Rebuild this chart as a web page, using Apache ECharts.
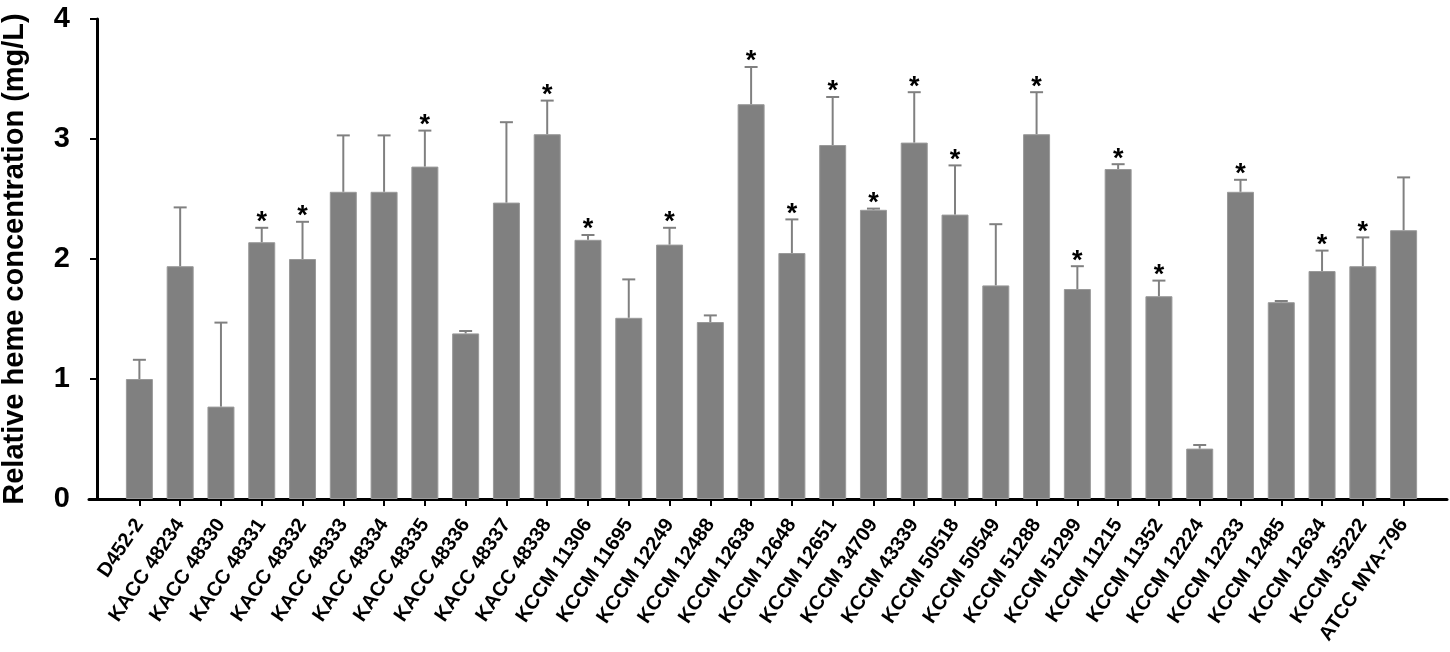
<!DOCTYPE html>
<html>
<head>
<meta charset="utf-8">
<script src="https://cdn.jsdelivr.net/npm/echarts@6/dist/echarts.min.js"></script>
<style>
  html, body { margin: 0; padding: 0; background: #fff; }
  #main { width: 1450px; height: 652px; }
</style>
</head>
<body>
<div id="main"></div>
<script>
const strains = [
  'D452-2', 'KACC 48234', 'KACC 48330', 'KACC 48331', 'KACC 48332', 'KACC 48333',
  'KACC 48334', 'KACC 48335', 'KACC 48336', 'KACC 48337', 'KACC 48338',
  'KCCM 11306', 'KCCM 11695', 'KCCM 12249', 'KCCM 12488', 'KCCM 12638',
  'KCCM 12648', 'KCCM 12651', 'KCCM 34709', 'KCCM 43339', 'KCCM 50518',
  'KCCM 50549', 'KCCM 51288', 'KCCM 51299', 'KCCM 11215', 'KCCM 11352',
  'KCCM 12224', 'KCCM 12233', 'KCCM 12485', 'KCCM 12634', 'KCCM 35222',
  'ATCC MYA-796'
];
const heme = [
  1.00, 1.94, 0.77, 2.14, 2.00, 2.56, 2.56, 2.77, 1.38, 2.47, 3.04,
  2.16, 1.51, 2.12, 1.475, 3.29, 2.05, 2.95, 2.41, 2.97, 2.37,
  1.78, 3.04, 1.75, 2.75, 1.69, 0.42, 2.56, 1.64, 1.90, 1.94, 2.24
];
// top of the error bar (mean + SD)
const errTop = [
  1.16, 2.43, 1.47, 2.26, 2.31, 3.03, 3.03, 3.07, 1.40, 3.14, 3.32,
  2.20, 1.83, 2.26, 1.53, 3.60, 2.33, 3.35, 2.42, 3.39, 2.78,
  2.29, 3.39, 1.94, 2.79, 1.82, 0.45, 2.66, 1.65, 2.07, 2.18, 2.68
];
// 1 = significant (*)
const signif = [
  0, 0, 0, 1, 1, 0, 0, 1, 0, 0, 1,
  1, 0, 1, 0, 1, 1, 1, 1, 1, 1,
  0, 1, 1, 1, 1, 0, 1, 0, 1, 1, 0
];
const yTicks = [0, 1, 2, 3, 4];

const font = 'Liberation Sans, Arial, sans-serif';
const chart = echarts.init(document.getElementById('main'));

const errData = strains.map((s, i) => [i, errTop[i], heme[i], signif[i]]);

chart.setOption({
  animation: false,
  grid: [
    { left: 119, right: 26, top: 19, bottom: 153, outerBoundsMode: 'none' },
    { left: 89, right: 3, top: 19, bottom: 153, outerBoundsMode: 'none' }
  ],
  xAxis: [
    {
      type: 'category',
      data: strains,
      gridIndex: 0,
      axisLine: { show: false },
      axisTick: { show: true, alignWithLabel: true, length: 7, lineStyle: { color: '#000', width: 2 } },
      axisLabel: {
        rotate: 56, margin: 22, interval: 0,
        color: '#000', fontFamily: font, fontSize: 20, fontWeight: 'bold'
      }
    },
    {
      type: 'value', gridIndex: 1, min: 0, max: 1,
      axisLine: { show: true, lineStyle: { color: '#000', width: 3 } },
      axisTick: { show: false }, axisLabel: { show: false }, splitLine: { show: false }
    }
  ],
  yAxis: [
    {
      type: 'value', gridIndex: 0,
      min: yTicks[0], max: yTicks[yTicks.length - 1], interval: 1,
      offset: 22,
      name: 'Relative heme concentration (mg/L)',
      nameLocation: 'middle', nameGap: 68,
      nameTextStyle: { color: '#000', fontFamily: font, fontSize: 29, fontWeight: 'bold' },
      axisLine: { show: true, lineStyle: { color: '#000', width: 3 } },
      axisTick: { show: true, length: 7, lineStyle: { color: '#000', width: 2 } },
      axisLabel: { margin: 27, color: '#000', fontFamily: font, fontSize: 29, fontWeight: 'bold' },
      splitLine: { show: false }
    },
    { type: 'value', gridIndex: 1, show: false, min: 0, max: 1 }
  ],
  series: [
    {
      type: 'bar',
      data: heme,
      barWidth: 27,
      itemStyle: { color: '#808080', borderColor: '#9a9a9a', borderWidth: 1 },
      z: 2
    },
    {
      type: 'custom',
      data: errData,
      z: 3,
      renderItem: function (params, api) {
        const i = api.value(0);
        const top = api.coord([i, api.value(1)]);
        const base = api.coord([i, api.value(2)]);
        const cap = 6.5;
        const style = { stroke: '#808080', lineWidth: 2 };
        const children = [
          { type: 'line', shape: { x1: top[0], y1: top[1], x2: base[0], y2: base[1] }, style: style },
          { type: 'line', shape: { x1: top[0] - cap, y1: top[1], x2: top[0] + cap, y2: top[1] }, style: style }
        ];
        if (api.value(3)) {
          children.push({
            type: 'text',
            style: {
              text: '*', x: top[0], y: top[1] - 5,
              textAlign: 'center', textVerticalAlign: 'middle',
              fill: '#000', font: 'bold 27px ' + font
            }
          });
        }
        return { type: 'group', children: children };
      }
    }
  ]
});
</script>
</body>
</html>
